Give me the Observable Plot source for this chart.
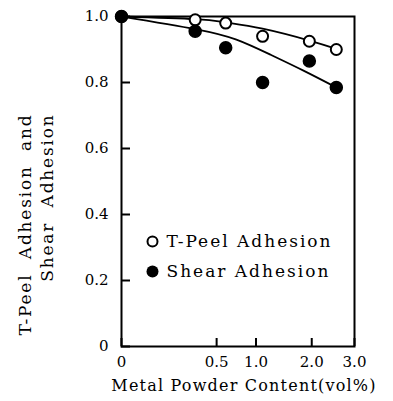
<!DOCTYPE html>
<html><head><meta charset="utf-8">
<script src="https://cdn.jsdelivr.net/npm/d3@7"></script>
<script src="https://cdn.jsdelivr.net/npm/@observablehq/plot@0.6"></script>
<style>
body{margin:0;background:#fff;}
svg{font-family:"DejaVu Serif","Liberation Serif",serif;}
</style>
</head><body><div id="chart"></div>
<script>
// Metal powder content (vol%) of the measured samples
const content = [0, 0.3, 0.6, 1.1, 1.95, 2.55];
const tPeelAdhesion = [1.0, 0.99, 0.98, 0.94, 0.925, 0.90];
const shearAdhesion = [1.0, 0.955, 0.905, 0.80, 0.865, 0.785];
// hand-drawn trend curves
const tPeelFitX = [0, 0.3, 0.6, 1.1, 1.95, 2.55];
const tPeelFitY = [1.0, 0.992, 0.982, 0.963, 0.927, 0.902];
const shearFitX = [0, 0.3, 0.73, 1.23, 1.83, 2.55];
const shearFitY = [1.0, 0.962, 0.930, 0.884, 0.836, 0.785];
const xTicks = [0, 0.5, 1.0, 2.0, 3.0];
const xTickLabels = ["0", "0.5", "1.0", "2.0", "3.0"];
const yTicks = [0, 0.2, 0.4, 0.6, 0.8, 1.0];
const yTickLabels = ["0", "0.2", "0.4", "0.6", "0.8", "1.0"];
const xTitle = "Metal Powder Content(vol%)";
const yTitleLines = ["T-Peel  Adhesion  and", "Shear  Adhesion"];
const legendLabels = ["T-Peel Adhesion", "Shear Adhesion"];

const peelPts = content.map((x, i) => ({x, y: tPeelAdhesion[i]}));
const shearPts = content.map((x, i) => ({x, y: shearAdhesion[i]}));
const peelFit = tPeelFitX.map((x, i) => ({x, y: tPeelFitY[i]}));
const shearFit = shearFitX.map((x, i) => ({x, y: shearFitY[i]}));

const chart = Plot.plot({
  width: 393,
  height: 401,
  marginLeft: 121,
  marginRight: 39,
  marginTop: 16,
  marginBottom: 55,
  style: {fontFamily: '"DejaVu Serif","Liberation Serif",serif', fontSize: "15px", color: "#000", background: "#fff"},
  x: {type: "sqrt", domain: [0, 3]},
  y: {domain: [0, 1]},
  marks: [
    Plot.frame({stroke: "#000", strokeWidth: 2}),
    Plot.axisX({ticks: xTicks, tickFormat: d => xTickLabels[xTicks.indexOf(d)], tickSize: -8, tickPadding: 18, strokeWidth: 2, fontSize: 15, label: null}),
    Plot.axisY({ticks: yTicks, tickFormat: d => yTickLabels[yTicks.indexOf(d)], tickSize: -9, tickPadding: 22, strokeWidth: 2, fontSize: 15, label: null}),
    Plot.line(peelFit, {x: "x", y: "y", curve: "natural", stroke: "#000", strokeWidth: 1.8}),
    Plot.line(shearFit, {x: "x", y: "y", curve: "natural", stroke: "#000", strokeWidth: 1.8}),
    Plot.dot(peelPts, {x: "x", y: "y", r: 5.5, fill: "#fff", stroke: "#000", strokeWidth: 2}),
    Plot.dot(shearPts, {x: "x", y: "y", r: 6, fill: "#000", stroke: "#000"}),
    Plot.dot([legendLabels[0]], {frameAnchor: "top-left", dx: 31, dy: 225, r: 5, fill: "#fff", stroke: "#000", strokeWidth: 2}),
    Plot.text([legendLabels[0]], {text: d => d, frameAnchor: "top-left", dx: 45, dy: 225, textAnchor: "start", lineAnchor: "middle", fontSize: 17}),
    Plot.dot([legendLabels[1]], {frameAnchor: "top-left", dx: 31, dy: 255, r: 6, fill: "#000"}),
    Plot.text([legendLabels[1]], {text: d => d, frameAnchor: "top-left", dx: 45, dy: 255, textAnchor: "start", lineAnchor: "middle", fontSize: 17}),
    Plot.text([xTitle], {text: d => d, frameAnchor: "bottom", dx: 6, dy: 39, lineAnchor: "middle", fontSize: 16}),
    Plot.text([yTitleLines[0]], {text: d => d, frameAnchor: "top-left", dx: -96, dy: 97, rotate: -90, textAnchor: "end", lineAnchor: "middle", fontSize: 17}),
    Plot.text([yTitleLines[1]], {text: d => d, frameAnchor: "top-left", dx: -74, dy: 97, rotate: -90, textAnchor: "end", lineAnchor: "middle", fontSize: 17})
  ]
});
const spacing = new Map([
  [legendLabels[0], "2px"], [legendLabels[1], "2px"],
  [xTitle, "1.2px"], [yTitleLines[0], "1.8px"], [yTitleLines[1], "1.8px"]
]);
d3.select(chart).selectAll("text").each(function() {
  const s = spacing.get(this.textContent);
  if (s) { this.setAttribute("letter-spacing", s); this.style.letterSpacing = s; }
});
document.getElementById("chart").appendChild(chart);
</script>
</body></html>
